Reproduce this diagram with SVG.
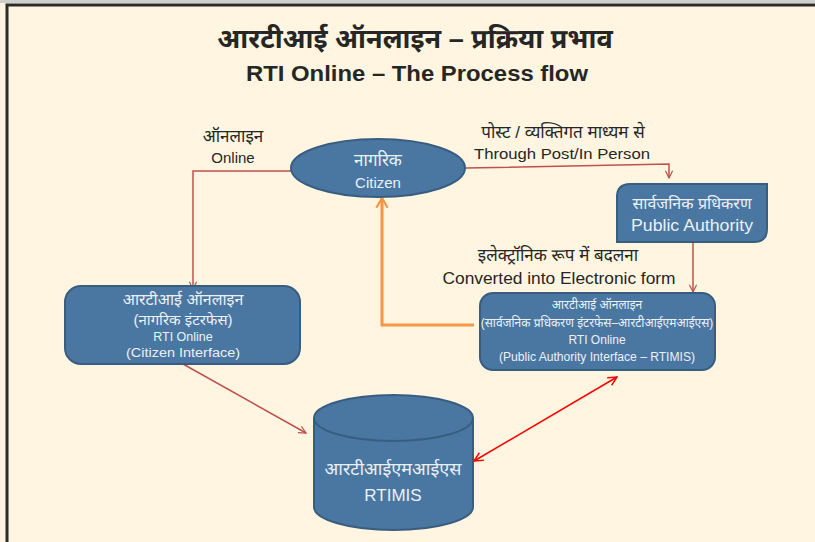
<svg xmlns="http://www.w3.org/2000/svg" width="815" height="542" viewBox="0 0 815 542">
<style>
.t{font-family:"Liberation Sans","Noto Sans Devanagari","Noto Sans",sans-serif;}
.dk{fill:#262626;}
.lt{fill:#EAF0F6;}
.node{fill:#4A77A1;stroke:#385D80;stroke-width:2;}
.con{fill:none;stroke:#C0504D;stroke-width:1.5;}
</style>
<defs>
<marker id="ah" viewBox="0 0 10 10" refX="9" refY="5" markerWidth="9" markerHeight="9" orient="auto" markerUnits="userSpaceOnUse">
<path d="M1,1 L9,5 L1,9" fill="none" stroke="#C0504D" stroke-width="1.3"/>
</marker>
<marker id="ahr" viewBox="0 0 10 10" refX="9" refY="5" markerWidth="11" markerHeight="11" orient="auto-start-reverse" markerUnits="userSpaceOnUse">
<path d="M1,1 L9,5 L1,9" fill="none" stroke="#FF0000" stroke-width="1.3"/>
</marker>
<marker id="aho" viewBox="0 0 10 10" refX="8" refY="5" markerWidth="14" markerHeight="14" orient="auto" markerUnits="userSpaceOnUse">
<path d="M1,1 L8,5 L1,9" fill="none" stroke="#F79646" stroke-width="1.6"/>
</marker>
</defs>
<rect x="0" y="0" width="815" height="542" fill="#FFF5E0"/>
<rect x="0" y="0" width="815" height="3" fill="#CFCFCF"/>
<path d="M7,542 V5 H815" fill="none" stroke="#2B2B2B" stroke-width="3"/>

<g id="title">
<text class="t dk" x="415" y="48" font-size="27" font-weight="bold" text-anchor="middle">आरटीआई ऑनलाइन – प्रक्रिया प्रभाव</text>
<text class="t dk" x="417" y="81" font-size="22" font-weight="bold" text-anchor="middle" textLength="342" lengthAdjust="spacingAndGlyphs">RTI Online – The Process flow</text>
</g>

<g id="connectors">
<path class="con" d="M291,171 H193 V289" marker-end="url(#ah)"/>
<path class="con" d="M466,168 L669,164 V178" marker-end="url(#ah)"/>
<path class="con" d="M693,242 V292" marker-end="url(#ah)"/>
<path class="con" d="M183,364 L306,433" marker-end="url(#ah)"/>
<path d="M617,377 L474,461" fill="none" stroke="#FF0000" stroke-width="1.5" marker-start="url(#ahr)" marker-end="url(#ahr)"/>
<path d="M474,325 H382 V198" fill="none" stroke="#F79646" stroke-width="3" marker-end="url(#aho)"/>
</g>

<g id="labels">
<text class="t dk" x="233" y="142" font-size="17" text-anchor="middle">ऑनलाइन</text>
<text class="t dk" x="233" y="163" font-size="15" text-anchor="middle">Online</text>
<text class="t dk" x="563" y="138" font-size="17" text-anchor="middle">पोस्ट / व्यक्तिगत माध्यम से</text>
<text class="t dk" x="562" y="159" font-size="15" text-anchor="middle" textLength="176" lengthAdjust="spacingAndGlyphs">Through Post/In Person</text>
<text class="t dk" x="558" y="261" font-size="17" text-anchor="middle">इलेक्ट्रॉनिक रूप में बदलना</text>
<text class="t dk" x="559" y="284" font-size="16" text-anchor="middle" textLength="233" lengthAdjust="spacingAndGlyphs">Converted into Electronic form</text>
</g>

<g id="citizen">
<ellipse class="node" cx="378" cy="168" rx="87" ry="29"/>
<text class="t lt" x="378" y="166" font-size="17" text-anchor="middle">नागरिक</text>
<text class="t lt" x="378" y="188" font-size="15" text-anchor="middle">Citizen</text>
</g>

<g id="public-authority">
<path class="node" d="M630,184 H767 V229 Q767,242 754,242 H617 V197 Q617,184 630,184 Z"/>
<text class="t lt" x="692" y="209" font-size="16" text-anchor="middle">सार्वजनिक प्रधिकरण</text>
<text class="t lt" x="692" y="231" font-size="16" text-anchor="middle" textLength="122" lengthAdjust="spacingAndGlyphs">Public Authority</text>
</g>

<g id="rti-citizen">
<rect class="node" x="65" y="286" width="235" height="78" rx="16"/>
<text class="t lt" x="183" y="305" font-size="16" text-anchor="middle">आरटीआई ऑनलाइन</text>
<text class="t lt" x="183" y="325" font-size="15" text-anchor="middle">(नागरिक इंटरफेस)</text>
<text class="t lt" x="183" y="341" font-size="12.5" text-anchor="middle">RTI Online</text>
<text class="t lt" x="183" y="357" font-size="12.5" text-anchor="middle" textLength="114" lengthAdjust="spacingAndGlyphs">(Citizen Interface)</text>
</g>

<g id="rti-authority">
<rect class="node" x="480" y="293" width="235" height="77" rx="13"/>
<text class="t lt" x="597" y="309" font-size="12" text-anchor="middle">आरटीआई ऑनलाइन</text>
<text class="t lt" x="597" y="327" font-size="12" text-anchor="middle">(सार्वजनिक प्रधिकरण इंटरफेस–आरटीआईएमआईएस)</text>
<text class="t lt" x="597" y="344" font-size="12" text-anchor="middle">RTI Online</text>
<text class="t lt" x="597" y="361" font-size="12" text-anchor="middle" textLength="196" lengthAdjust="spacingAndGlyphs">(Public Authority Interface – RTIMIS)</text>
</g>

<g id="rtimis">
<path class="node" d="M314,418 V507 A79.5,23 0 0 0 473,507 V418"/>
<ellipse class="node" cx="393.5" cy="418" rx="79.5" ry="23"/>
<text class="t lt" x="393" y="475" font-size="18" text-anchor="middle">आरटीआईएमआईएस</text>
<text class="t lt" x="393" y="501" font-size="17" text-anchor="middle">RTIMIS</text>
</g>
</svg>
